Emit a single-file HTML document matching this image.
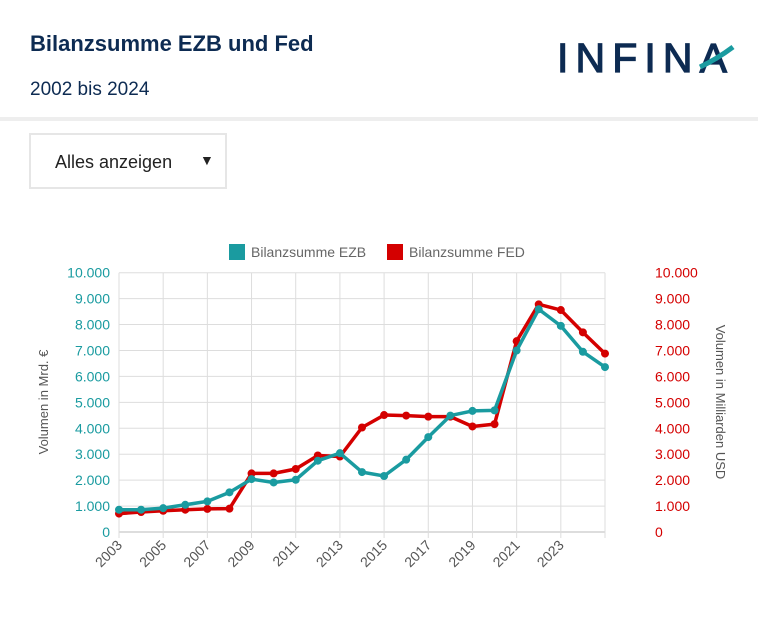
<!DOCTYPE html>
<html><head><meta charset="utf-8"><style>
body{margin:0;width:758px;height:623px;background:#fff;font-family:"Liberation Sans",sans-serif;overflow:hidden;position:relative}
.t{position:absolute;left:30px;top:31px;font-size:22px;font-weight:bold;color:#0d2b52}
.s{position:absolute;left:30px;top:79px;font-size:19px;color:#0d2b52}
.hr{position:absolute;left:0;top:117px;width:758px;height:4px;background:#eee}
.dd{position:absolute;left:29px;top:133px;width:198px;height:56px;border:2px solid #e6e6e6;font-size:18px;color:#222;box-sizing:border-box}
</style></head><body>
<div class="t">Bilanzsumme EZB und Fed</div>
<div class="s">2002 bis 2024</div>
<svg style="position:absolute;left:555px;top:35px" width="190" height="42">
<text x="2" y="37" font-family="Liberation Sans" font-size="41" fill="#0d2b52" stroke="#0d2b52" stroke-width="1.2" textLength="170" lengthAdjust="spacing">INFINA</text>
<path d="M145 32 Q162 24 178 12" stroke="#1a9ba0" stroke-width="5" fill="none"/>
</svg>
<div class="hr"></div>
<div class="dd"><span style="position:absolute;left:24px;top:17px">Alles anzeigen</span><span style="position:absolute;left:169px;top:17px;font-size:14px">▼</span></div>
<svg id="c" width="758" height="623" style="position:absolute;left:0;top:0"></svg>
<script>
const years=[2003,2004,2005,2006,2007,2008,2009,2010,2011,2012,2013,2014,2015,2016,2017,2018,2019,2020,2021,2022,2023,2024,2025];
const ezb=[860,860,920,1050,1180,1530,2040,1910,2015,2750,3040,2310,2160,2790,3660,4490,4670,4690,7000,8590,7950,6950,6360];
const fed=[710,770,820,860,890,900,2260,2260,2430,2950,2910,4030,4510,4490,4450,4450,4070,4160,7360,8780,8560,7700,6880];
const ticks=[0,1000,2000,3000,4000,5000,6000,7000,8000,9000,10000];
const tickLabels=["0","1.000","2.000","3.000","4.000","5.000","6.000","7.000","8.000","9.000","10.000"];
const svg=document.getElementById('c');const NS='http://www.w3.org/2000/svg';
const X0=119,X1=605,Y0=532,Y1=272.7;
const x=i=>X0+(X1-X0)*i/(years.length-1);
const y=v=>Y0-(Y0-Y1)*v/10000;
function mk(t,a,p){const e=document.createElementNS(NS,t);for(const k in a)e.setAttribute(k,a[k]);(p||svg).appendChild(e);return e;}
ticks.forEach((v,i)=>{
const g=mk('line',{x1:X0,x2:X1,y1:y(v),y2:y(v),stroke:i==0?'#bbb':'#ddd','stroke-width':1});


const l=mk('text',{x:110,y:y(v)+5,'text-anchor':'end','font-size':14,fill:'#1a9ba0'});l.textContent=tickLabels[i];


const r=mk('text',{x:655,y:y(v)+5,'font-size':14,fill:'#d40000'});r.textContent=tickLabels[i];


});
years.forEach((yr,i)=>{
if(i%2)return;
const g=mk('line',{x1:x(i),x2:x(i),y1:Y1,y2:Y0+6,stroke:'#ddd'});


if(yr>2023)return;
const t=mk('text',{x:x(i)+4,y:Y0+14,'text-anchor':'end','font-size':14,fill:'#555',transform:`rotate(-45 ${x(i)+4} ${Y0+14})`});t.textContent=yr;


});
function series(d,c,n){
const p=mk('polyline',{points:d.map((v,i)=>x(i)+','+y(v)).join(' '),fill:'none',stroke:c,'stroke-width':3.5,'stroke-linejoin':'round'});


d.forEach((v,i)=>{const ci=mk('circle',{cx:x(i),cy:y(v),r:4,fill:c});

});
}
series(fed,'#d40000','fed');
series(ezb,'#1a9ba0','ezb');
const a=mk('text',{x:48,y:402,'text-anchor':'middle','font-size':13,fill:'#555',transform:'rotate(-90 48 402)'});a.textContent='Volumen in Mrd. €';


const b=mk('text',{x:716,y:402,'text-anchor':'middle','font-size':13,fill:'#555',transform:'rotate(90 716 402)'});b.textContent='Volumen in Milliarden USD';


const lg=[['Bilanzsumme EZB','#1a9ba0',229],['Bilanzsumme FED','#d40000',387]];
lg.forEach(([t,c,lx])=>{const r=mk('rect',{x:lx,y:244,width:16,height:16,fill:c});


const tx=mk('text',{x:lx+22,y:257,'font-size':14,fill:'#666'});tx.textContent=t;

});
</script>
</body></html>
